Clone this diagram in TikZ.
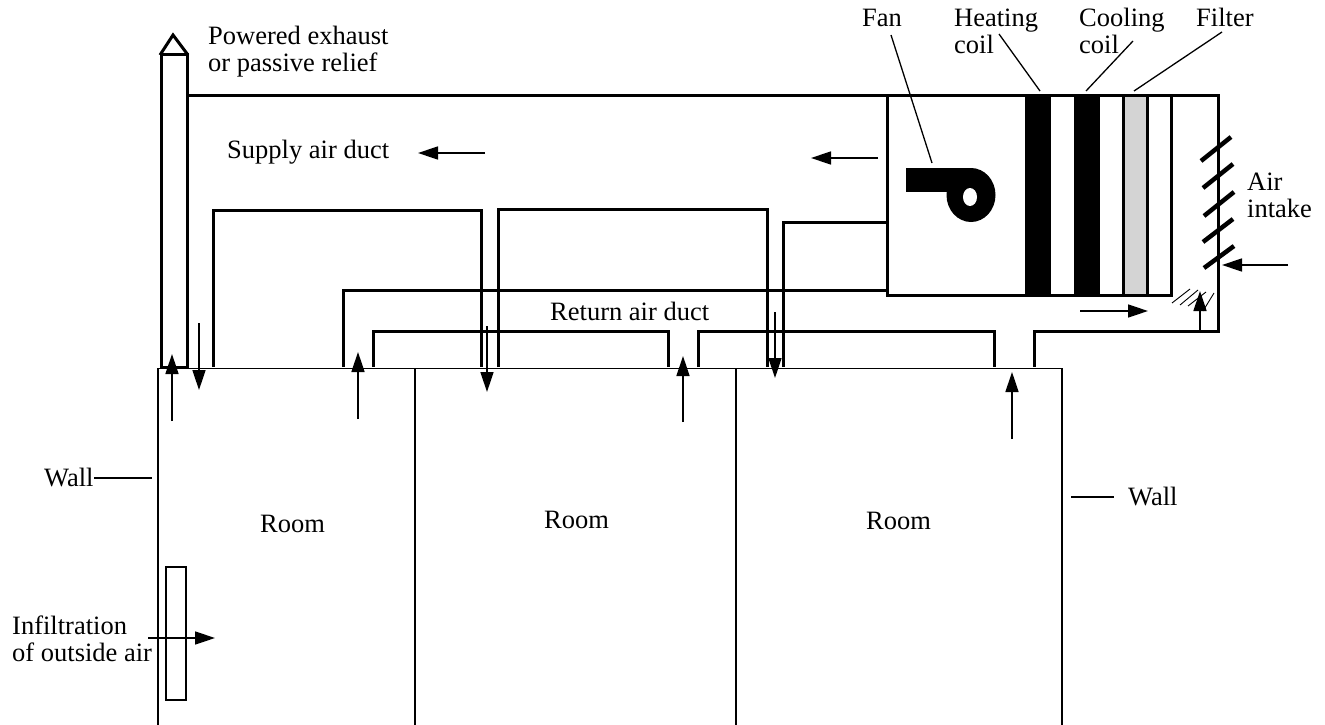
\documentclass[tikz,border=0pt]{standalone}
\usepackage{fontspec}
\setmainfont{Liberation Serif}
\usetikzlibrary{arrows.meta}
\tikzset{
  duct/.style={line width=3pt, line cap=butt, line join=miter},
  wall/.style={line width=1.3pt},
  leader/.style={line width=1.3pt},
  flow/.style={line width=1.5pt, -{Triangle[length=20pt,width=13pt]}},
  louver/.style={line width=4.5pt},
  hatchline/.style={line width=0.9pt},
  coil/.style={fill=black},
  txt/.style={font=\fontsize{26.5}{27}\selectfont, inner sep=0pt, anchor=base west, align=left}
}
\begin{document}
\begin{tikzpicture}[x=1pt,y=-1pt]
    \useasboundingbox (0,0) rectangle (1325,725);
    % exhaust stack
    \draw[duct] (161,367) -- (161,55) -- (187,55) -- (187,367) -- cycle;
    \draw[duct] (160,55) -- (173,35) -- (188,55);
    % outer casing of supply duct
    \draw[duct] (187,95) -- (1218,95) -- (1218,331) -- (1034,331) -- (1034,367);
    % air handling unit
    \draw[duct] (887,95) rectangle (1171,295);
    \fill[coil] (1025,95) rectangle (1051,295);
    \fill[coil] (1074,95) rectangle (1100,296);
    \draw[duct, fill=black!17] (1123,95) rectangle (1147,295);
    % fan
    \fill[coil] (906,168) rectangle (971,192);
    \fill[coil] (971,195) ellipse [x radius=24.5, y radius=27];
    \fill[white] (970,197) ellipse [x radius=7, y radius=9];
    % supply branches
    \draw[duct] (213,367) -- (213,210) -- (481,210) -- (481,367);
    \draw[duct] (498,367) -- (498,209) -- (767,209) -- (767,367);
    \draw[duct] (783,367) -- (783,222) -- (887,222);
    % return duct
    \draw[duct] (343,367) -- (343,290.5) -- (887,290.5);
    \draw[duct] (373,367) -- (373,331) -- (668,331) -- (668,367);
    \draw[duct] (698,367) -- (698,331) -- (994,331) -- (994,367);
    % louvers
    \draw[louver] (1201,161) -- (1231,137);
    \draw[louver] (1203,188) -- (1233,164);
    \draw[louver] (1204,216) -- (1234,192);
    \draw[louver] (1203,242) -- (1233,219);
    \draw[louver] (1204,268) -- (1234,246);
    % hatching
    \draw[hatchline] (1172,303) -- (1190,289);
    \draw[hatchline] (1180,305) -- (1198,290);
    \draw[hatchline] (1188,306) -- (1206,292);
    \draw[hatchline] (1203,311) -- (1214,293);
    % walls
    \draw[wall] (158,725) -- (158,368.5) -- (1062,368.5) -- (1062,725);
    \draw[wall] (415,368.5) -- (415,725);
    \draw[wall] (736,368.5) -- (736,725);
    \draw[wall] (166,567) rectangle (186,700);
    % air flow
    \draw[flow] (485,153) -- (418,153);
    \draw[flow] (878,158) -- (811,158);
    \draw[flow] (1288,265) -- (1222,265);
    \draw[flow] (1080,311) -- (1148,311);
    \draw[flow] (1200,331) -- (1200,291);
    \draw[flow] (172,421) -- (172,354);
    \draw[flow] (199,323) -- (199,390);
    \draw[flow] (358,419) -- (358,352);
    \draw[flow] (487,326) -- (487,392);
    \draw[flow] (683,422) -- (683,356);
    \draw[flow] (775,312) -- (775,378);
    \draw[flow] (1012,439) -- (1012,372);
    \draw[flow] (148,638) -- (215,638);
    % labels
    \node[txt] (exhaust) at (208,71) {Powered exhaust\\or passive relief};
    \node[txt] (supply) at (227,158) {Supply air duct};
    \node[txt] (return) at (550,320) {Return air duct};
    \node[txt] (fan) at (862,27) {Fan};
    \node[txt] (heating) at (954,53) {Heating\\coil};
    \node[txt] (cooling) at (1079,53) {Cooling\\coil};
    \node[txt] (filter) at (1196,27) {Filter};
    \node[txt] (intake) at (1247,217) {Air\\intake};
    \node[txt] (wallL) at (44,486) {Wall};
    \node[txt] (wallR) at (1128,505) {Wall};
    \node[txt] (roomA) at (260,532) {Room};
    \node[txt] (roomB) at (544,528) {Room};
    \node[txt] (roomC) at (866,529) {Room};
    \node[txt] (infil) at (12,661) {Infiltration\\of outside air};
    % leaders
    \coordinate (fanEnd) at (932,163);
    \coordinate (heatEnd) at (1040,91);
    \coordinate (coolEnd) at (1086,91);
    \coordinate (filtEnd) at (1134,91);
    \coordinate (wallEndL) at (152,478);
    \coordinate (wallEndR) at (1071,497);
    \draw[leader] (891,35) -- (fanEnd);
    \draw[leader] (999,34) -- (heatEnd);
    \draw[leader] (1133,41) -- (coolEnd);
    \draw[leader] (1222,32) -- (filtEnd);
    \draw[leader] (94,478) -- (wallEndL);
    \draw[leader] (wallEndR) -- (1114,497);
\end{tikzpicture}
\end{document}
